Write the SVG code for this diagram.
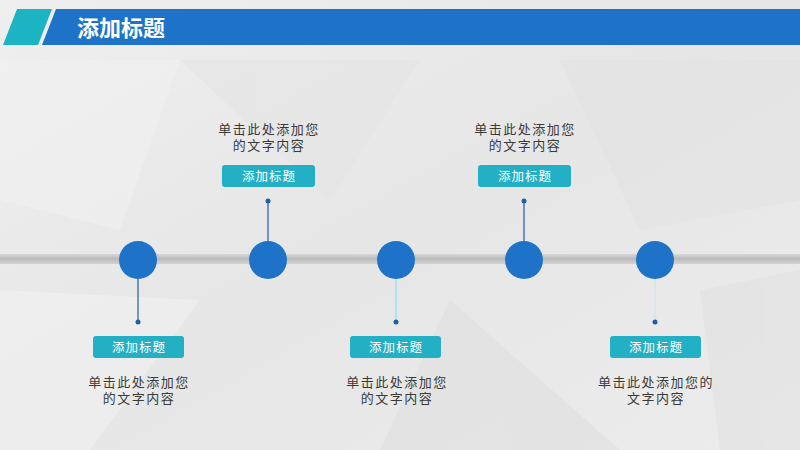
<svg xmlns="http://www.w3.org/2000/svg" width="800" height="450" viewBox="0 0 800 450">
<defs>
<linearGradient id="bg" x1="0" y1="0" x2="1" y2="1">
<stop offset="0" stop-color="#efefef"/>
<stop offset="0.5" stop-color="#e6e6e6"/>
<stop offset="1" stop-color="#ececec"/>
</linearGradient>
<linearGradient id="band" x1="0" y1="0" x2="0" y2="1">
<stop offset="0" stop-color="#d8d8d8"/>
<stop offset="0.5" stop-color="#b9b9b9"/>
<stop offset="1" stop-color="#d4d4d4"/>
</linearGradient>
<style>
.node{fill:#1e73c8}
.tag{fill:#23b0c4}
.tagtxt{font-family:"Noto Sans CJK SC","Noto Sans",sans-serif;font-size:12.5px;letter-spacing:1px;fill:#ffffff;text-anchor:middle}
.desc{font-family:"Noto Sans CJK SC","Noto Sans",sans-serif;font-size:13px;letter-spacing:1.5px;fill:#3a3a3a;text-anchor:middle}
.dark{stroke:#1e5fa8;stroke-width:1.2}
.light{stroke:#8fe0ec;stroke-width:1.2}
.dot{fill:#1e5fa8}
</style>
</defs>
<rect width="800" height="450" fill="url(#bg)"/>
<g opacity="0.5">
<polygon points="0,60 180,60 120,230 0,200" fill="#f2f2f2"/>
<polygon points="180,60 420,60 330,200" fill="#e4e4e4"/>
<polygon points="560,60 800,60 800,200 640,230" fill="#e2e2e2"/>
<polygon points="0,290 200,300 90,450 0,450" fill="#f3f3f3"/>
<polygon points="450,300 620,450 380,450" fill="#dedede"/>
<polygon points="700,290 800,270 800,450 720,450" fill="#e0e0e0"/>
</g>
<g id="header">
<polygon points="17,9 52,9 38,45 3,45" fill="#1cb3c3"/>
<polygon points="56,9 800,9 800,45 42,45" fill="#1e73c8"/>
<text x="77" y="36" font-family="Noto Sans CJK SC,sans-serif" font-size="22" font-weight="bold" fill="#ffffff">添加标题</text>
</g>
<rect id="timeline" x="0" y="254" width="800" height="10" fill="url(#band)"/>
<g id="connectors">
<line class="dark" x1="138" y1="279" x2="138" y2="322"/>
<circle class="dot" cx="138" cy="322" r="2.5"/>
<line class="dark" x1="268" y1="201" x2="268" y2="241"/>
<circle class="dot" cx="268" cy="201" r="2.5"/>
<line class="light" x1="396" y1="279" x2="396" y2="322"/>
<circle class="dot" cx="396" cy="322" r="2.5"/>
<line class="dark" x1="524" y1="201" x2="524" y2="241"/>
<circle class="dot" cx="524" cy="201" r="2.5"/>
<line class="light" x1="655" y1="279" x2="655" y2="322" opacity="0.3"/>
<circle class="dot" cx="655" cy="322" r="2.5"/>
</g>
<g id="node1">
<circle class="node" cx="138" cy="260" r="19"/>
<rect class="tag" x="93" y="336" width="91" height="22" rx="3"/>
<text class="tagtxt" x="139" y="351.5">添加标题</text>
<text class="desc" x="139" y="387">单击此处添加您</text>
<text class="desc" x="139" y="403">的文字内容</text>
</g>
<g id="node2">
<circle class="node" cx="268" cy="260" r="19"/>
<rect class="tag" x="222" y="165" width="93" height="22" rx="3"/>
<text class="tagtxt" x="269" y="180.5">添加标题</text>
<text class="desc" x="269" y="134">单击此处添加您</text>
<text class="desc" x="269" y="150">的文字内容</text>
</g>
<g id="node3">
<circle class="node" cx="396" cy="260" r="19"/>
<rect class="tag" x="350" y="336" width="91" height="22" rx="3"/>
<text class="tagtxt" x="396" y="351.5">添加标题</text>
<text class="desc" x="397" y="387">单击此处添加您</text>
<text class="desc" x="397" y="403">的文字内容</text>
</g>
<g id="node4">
<circle class="node" cx="524" cy="260" r="19"/>
<rect class="tag" x="478" y="165" width="93" height="22" rx="3"/>
<text class="tagtxt" x="525" y="180.5">添加标题</text>
<text class="desc" x="525" y="134">单击此处添加您</text>
<text class="desc" x="525" y="150">的文字内容</text>
</g>
<g id="node5">
<circle class="node" cx="655" cy="260" r="19"/>
<rect class="tag" x="610" y="336" width="91" height="22" rx="3"/>
<text class="tagtxt" x="656" y="351.5">添加标题</text>
<text class="desc" x="656" y="387">单击此处添加您的</text>
<text class="desc" x="656" y="403">文字内容</text>
</g>
</svg>
